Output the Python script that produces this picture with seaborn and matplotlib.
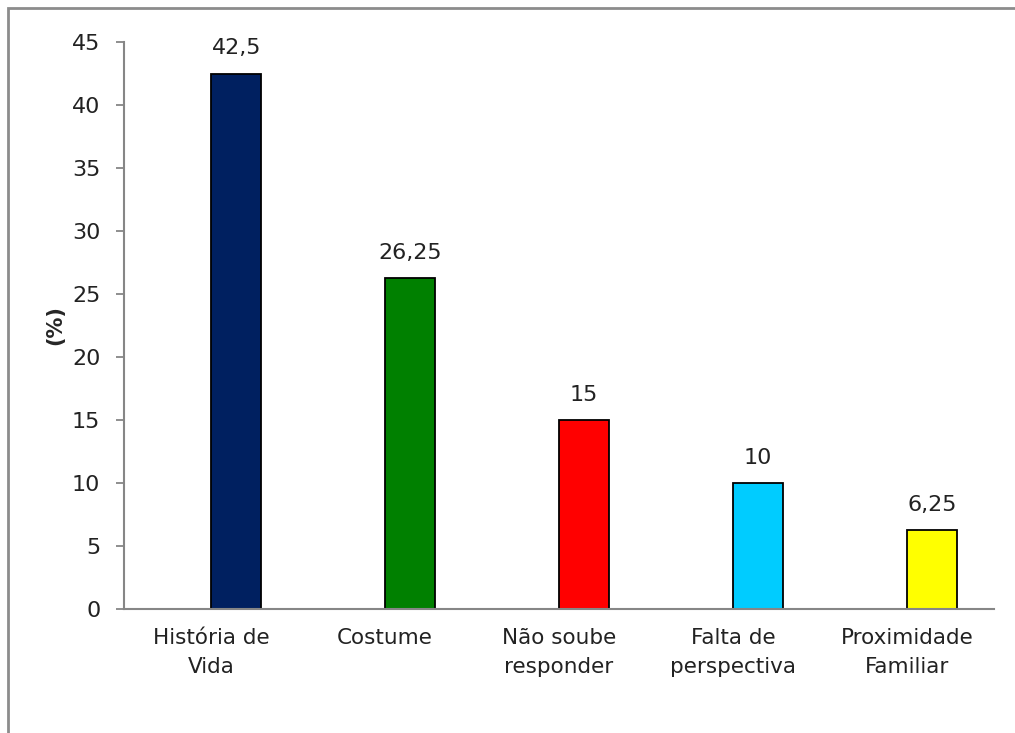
import matplotlib
matplotlib.use("Agg")
import matplotlib.pyplot as plt
import seaborn as sns
import numpy as np
import pandas as pd
from matplotlib.patches import Rectangle

categories = ["História de\nVida", "Costume", "Não soube\nresponder", "Falta de\nperspectiva", "Proximidade\nFamiliar"]
values = [42.5, 26.25, 15, 10, 6.25]
colors = ["#002060", "#008000", "#FF0000", "#00CCFF", "#FFFF00"]
yticks = [0, 5, 10, 15, 20, 25, 30, 35, 40, 45]
ylabel = "(%)"

sns.set_style("white")
plt.rcParams['font.family'] = ['DejaVu Sans']

W, H = 1015, 733
fig = plt.figure(figsize=(W / 100, H / 100), dpi=100)
ax = fig.add_axes([124 / W, 1 - 609 / H, (994 - 124) / W, (609 - 42) / H])

df = pd.DataFrame({"cat": categories, "val": values})
sns.barplot(data=df, x="cat", y="val", hue="cat", palette=colors, width=0.29,
            edgecolor="black", linewidth=1.3, legend=False, ax=ax, saturation=1)

# Excel-style offset of bars to the right of category centre
for p in ax.patches:
    p.set_x(p.get_x() + 0.145)

for p, v in zip(ax.patches, values):
    ax.annotate(f"{v:g}".replace(".", ","), (p.get_x() + p.get_width() / 2, p.get_height()),
                xytext=(0, 11), textcoords="offset points", ha="center", va="bottom",
                fontsize=16, color="#222222")

ax.set_xlim(-0.5, len(categories) - 0.5)
ax.set_ylim(0, 45)
ax.set_yticks(yticks)
ax.set_yticklabels([str(t) for t in yticks], fontsize=16, color="#222222")
ax.set_xticks(range(len(categories)))
ax.set_xticklabels(categories, fontsize=15.5, color="#222222", linespacing=1.55)
ax.set_xticks(np.arange(-0.5, len(categories), 1), minor=True)
ax.tick_params(axis="x", which="major", length=0, pad=14)
ax.tick_params(axis="x", which="minor", length=6, width=1.3, color="#868686", direction="out")
ax.tick_params(axis="y", length=6, width=1.3, color="#868686", direction="out", pad=11, left=True)
ax.set_xlabel("")
ax.set_ylabel(ylabel, fontsize=15, fontweight="bold", labelpad=5)

for s in ["top", "right"]:
    ax.spines[s].set_visible(False)
for s in ["left", "bottom"]:
    ax.spines[s].set_color("#868686")
    ax.spines[s].set_linewidth(1.5)

frame = Rectangle((8 / W, -0.2), 1.3, 0.2 + 1 - 8 / H, transform=fig.transFigure,
                  fill=False, edgecolor="#8c8c8c", linewidth=2, clip_on=False)
fig.add_artist(frame)

fig.savefig("out.png", dpi=100)
